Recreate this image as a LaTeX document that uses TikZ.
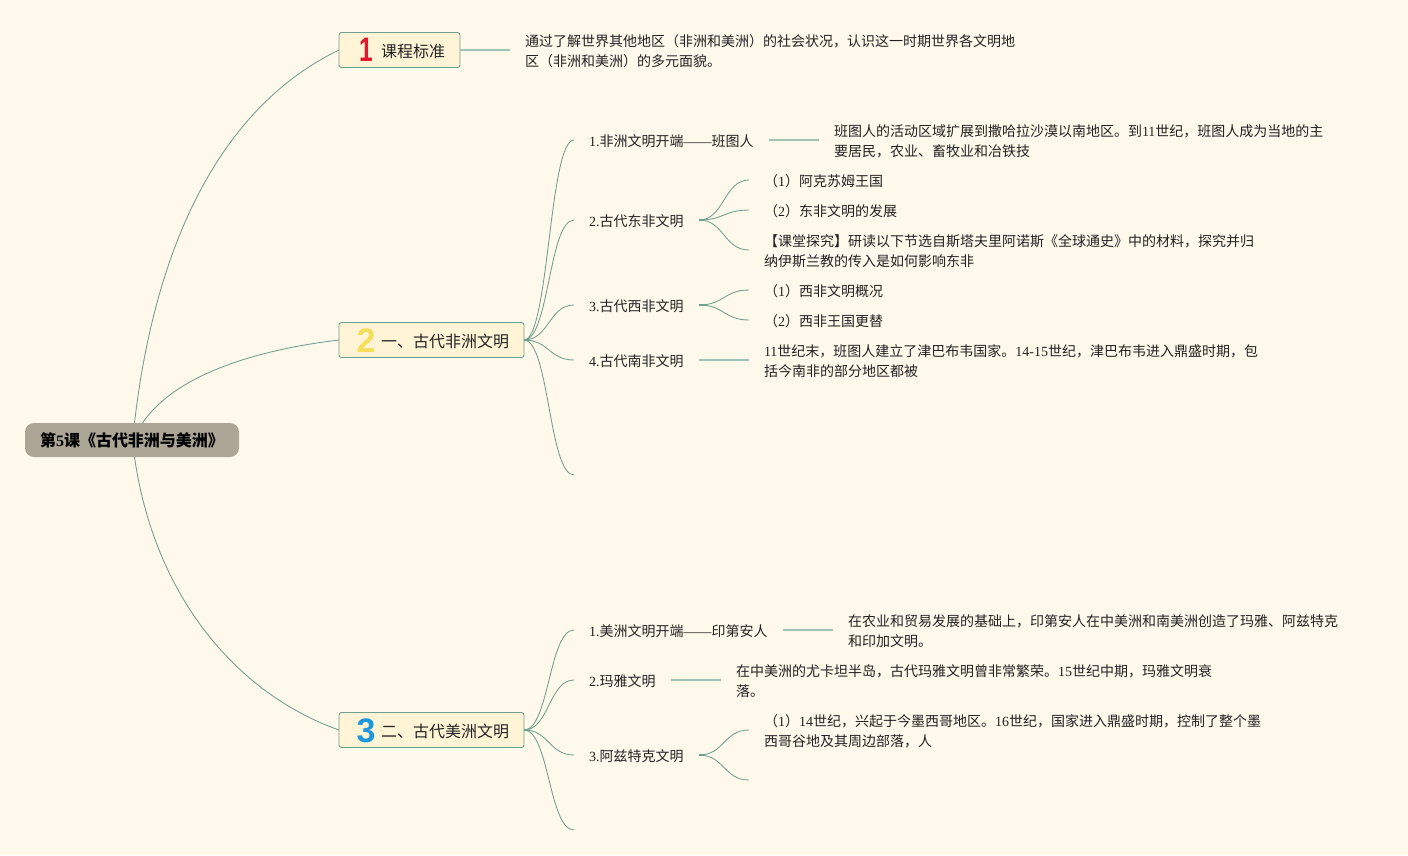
\documentclass[tikz,border=0pt]{standalone}
\usepackage{fontspec}
\usetikzlibrary{calc}
\setmainfont{Noto Sans CJK SC}
\newfontfamily\latf{Liberation Serif}
\newfontfamily\digf{Liberation Sans}
\newcommand{\lat}[1]{{\latf #1}}
\definecolor{bgc}{HTML}{FFF9EC}
\definecolor{linec}{HTML}{6F9F8E}
\definecolor{linel}{HTML}{A2C3B3}
\definecolor{boxf}{HTML}{FFF5D6}
\definecolor{rootf}{HTML}{ABA696}
\definecolor{txtc}{HTML}{222222}
\tikzset{
  every node/.style={inner sep=0pt,outer sep=0pt,text=txtc},
  txt/.style={anchor=west,align=left,yshift=-0.5pt,font=\fontsize{14}{20}\selectfont},
  topic/.style={draw=linec,fill=boxf,rounded corners=2.5pt,line width=0.9pt,minimum height=35pt,anchor=west},
  toptxt/.style={anchor=west,font=\fontsize{16}{20}\selectfont},
  num/.style={font=\fontsize{34}{34}\selectfont\digf\bfseries},
  curve/.style={draw=linec,line width=0.85pt},
  straight/.style={draw=linel,line width=1.2pt},
  stub/.style={draw=linec,line width=1.3pt},
}
\begin{document}
\begin{tikzpicture}[x=1pt,y=-1pt]
\fill[bgc] (0,0) rectangle (1408,855);
\useasboundingbox (0,0) rectangle (1408,855);

% root
\node[fill=rootf,rounded corners=9pt,minimum width=214pt,minimum height=34pt,anchor=center,font=\fontsize{16}{20}\selectfont\bfseries,text=black] (root) at (132,440) {第\lat{5}课《古代非洲与美洲》};

% topics
\node[topic,minimum width=121pt] (t1) at (339,50) {};
\node[topic,minimum width=185pt] (t2) at (339,340) {};
\node[topic,minimum width=185pt] (t3) at (339,730) {};
\node[num,xscale=.72,text={rgb,255:red,224;green,24;blue,45}] (n1) at (366,50) {1};
\node[num,text={rgb,255:red,246;green,220;blue,88}] (n2) at (366,340.5) {2};
\node[num,text={rgb,255:red,30;green,150;blue,220}] (n3) at (366,730.5) {3};
\node[toptxt] (l1) at (381,51) {课程标准};
\node[toptxt] (l2) at (381,341) {一、古代非洲文明};
\node[toptxt] (l3) at (381,731) {二、古代美洲文明};

% root connectors
\draw[curve] ([xshift=2.5pt]root.north) .. controls (158,220) and (235,100) .. (t1.west);
\draw[curve] ([xshift=10.5pt]root.north) .. controls (175,375) and (255,350) .. (t2.west);
\draw[curve] ([xshift=2.5pt]root.south) .. controls (155,600) and (240,695) .. (t3.west);

% top note
\coordinate (s1) at (510,50);
\draw[straight] (t1.east) -- (s1);
\node[txt] (d1) at (525,51) {通过了解世界其他地区（非洲和美洲）的社会状况，认识这一时期世界各文明地\\区（非洲和美洲）的多元面貌。};

% section 1 children
\node[txt] (a1) at (589,141) {\lat{1.}非洲文明开端\lat{——}班图人};
\node[txt] (a2) at (589,221) {\lat{2.}古代东非文明};
\node[txt] (a3) at (589,306) {\lat{3.}古代西非文明};
\node[txt] (a4) at (589,361) {\lat{4.}古代南非文明};
\coordinate (a1c) at (574,140);
\coordinate (a2c) at (574,220);
\coordinate (a3c) at (574,305);
\coordinate (a4c) at (574,360);
\coordinate (a5c) at (574,475);
\foreach \e in {a1c,a2c,a3c,a4c,a5c}
  \draw[curve] (t2.east) .. controls ($(t2.east)+(25,0)$) and ($(\e)+(-25,0)$) .. (\e);
\draw[stub] (t2.east) -- ++(5,0);

\coordinate (a1s) at (769,140);
\coordinate (a1e) at (819,140);
\draw[straight] (a1s) -- (a1e);
\node[txt] (a1d) at (834,141) {班图人的活动区域扩展到撒哈拉沙漠以南地区。到\lat{11}世纪，班图人成为当地的主\\要居民，农业、畜牧业和冶铁技};

\coordinate (a2s) at (699,220);
\coordinate (a21) at (749,180);
\coordinate (a22) at (749,210);
\coordinate (a23) at (749,250);
\foreach \e in {a21,a22,a23}
  \draw[curve] (a2s) .. controls ($(a2s)+(25,0)$) and ($(\e)+(-25,0)$) .. (\e);
\draw[stub] (a2s) -- ++(6,0);
\node[txt] (b1) at (764,181) {（\lat{1}）阿克苏姆王国};
\node[txt] (b2) at (764,211) {（\lat{2}）东非文明的发展};
\node[txt] (b3) at (764,251) {【课堂探究】研读以下节选自斯塔夫里阿诺斯《全球通史》中的材料，探究并归\\纳伊斯兰教的传入是如何影响东非};

\coordinate (a3s) at (699,305);
\coordinate (a31) at (749,290);
\coordinate (a32) at (749,320);
\foreach \e in {a31,a32}
  \draw[curve] (a3s) .. controls ($(a3s)+(25,0)$) and ($(\e)+(-25,0)$) .. (\e);
\draw[stub] (a3s) -- ++(6,0);
\node[txt] (c1) at (764,291) {（\lat{1}）西非文明概况};
\node[txt] (c2) at (764,321) {（\lat{2}）西非王国更替};

\coordinate (a4s) at (699,360);
\coordinate (a4e) at (749,360);
\draw[straight] (a4s) -- (a4e);
\node[txt] (a4d) at (764,361) {\lat{11}世纪末，班图人建立了津巴布韦国家。\lat{14-15}世纪，津巴布韦进入鼎盛时期，包\\括今南非的部分地区都被};

% section 2 children
\node[txt] (e1) at (589,631) {\lat{1.}美洲文明开端\lat{——}印第安人};
\node[txt] (e2) at (589,681) {\lat{2.}玛雅文明};
\node[txt] (e3) at (589,756) {\lat{3.}阿兹特克文明};
\coordinate (e1c) at (574,630);
\coordinate (e2c) at (574,680);
\coordinate (e3c) at (574,755);
\coordinate (e4c) at (574,830);
\foreach \e in {e1c,e2c,e3c,e4c}
  \draw[curve] (t3.east) .. controls ($(t3.east)+(25,0)$) and ($(\e)+(-25,0)$) .. (\e);
\draw[stub] (t3.east) -- ++(5,0);

\coordinate (e1s) at (783,630);
\coordinate (e1e) at (833,630);
\draw[straight] (e1s) -- (e1e);
\node[txt] (e1d) at (848,631) {在农业和贸易发展的基础上，印第安人在中美洲和南美洲创造了玛雅、阿兹特克\\和印加文明。};

\coordinate (e2s) at (671,680);
\coordinate (e2e) at (721,680);
\draw[straight] (e2s) -- (e2e);
\node[txt] (e2d) at (736,681) {在中美洲的尤卡坦半岛，古代玛雅文明曾非常繁荣。\lat{15}世纪中期，玛雅文明衰\\落。};

\coordinate (e3s) at (699,755);
\coordinate (e31) at (749,730);
\coordinate (e32) at (749,780);
\foreach \e in {e31,e32}
  \draw[curve] (e3s) .. controls ($(e3s)+(25,0)$) and ($(\e)+(-25,0)$) .. (\e);
\draw[stub] (e3s) -- ++(6,0);
\node[txt] (e3d) at (764,731) {（\lat{1}）\lat{14}世纪，兴起于今墨西哥地区。\lat{16}世纪，国家进入鼎盛时期，控制了整个墨\\西哥谷地及其周边部落，人};
\end{tikzpicture}
\end{document}
